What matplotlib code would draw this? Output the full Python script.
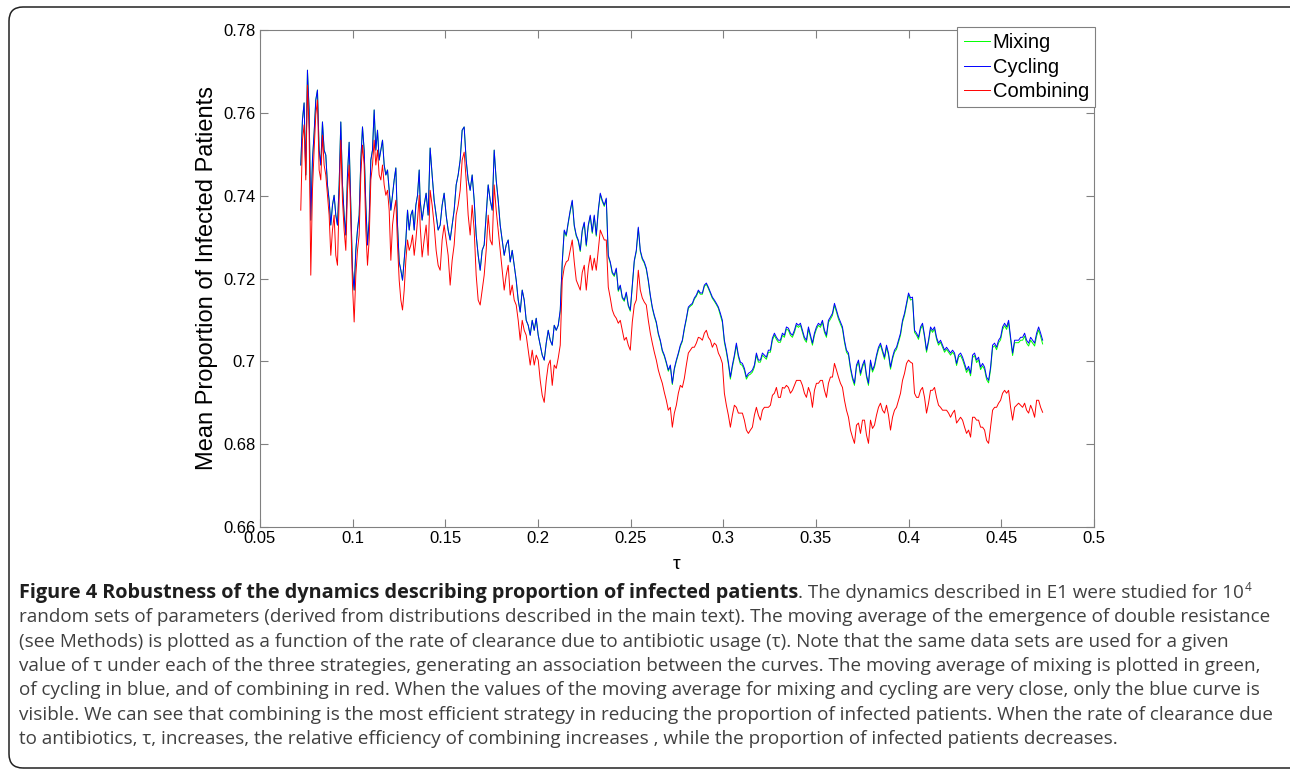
import matplotlib
matplotlib.use("Agg")
import matplotlib.pyplot as plt
import matplotlib.patches as mpatches
from matplotlib.transforms import IdentityTransform

# tau (rate of clearance due to antibiotic usage) for each moving-average point
TAU = [
    0.0720, 0.0729, 0.0738, 0.0747, 0.0756, 0.0765, 0.0774, 0.0783, 0.0792, 0.0801,
    0.0810, 0.0819, 0.0828, 0.0837, 0.0846, 0.0855, 0.0864, 0.0873, 0.0882, 0.0891,
    0.0900, 0.0909, 0.0918, 0.0927, 0.0936, 0.0945, 0.0954, 0.0963, 0.0972, 0.0981,
    0.0990, 0.0999, 0.1008, 0.1017, 0.1026, 0.1035, 0.1044, 0.1053, 0.1062, 0.1071,
    0.1080, 0.1089, 0.1098, 0.1107, 0.1116, 0.1125, 0.1134, 0.1143, 0.1152, 0.1161,
    0.1170, 0.1179, 0.1188, 0.1197, 0.1206, 0.1215, 0.1224, 0.1233, 0.1242, 0.1251,
    0.1260, 0.1269, 0.1278, 0.1287, 0.1296, 0.1305, 0.1314, 0.1323, 0.1332, 0.1341,
    0.1350, 0.1359,
    0.13640, 0.13748, 0.13856, 0.13964, 0.14072, 0.14180, 0.14288, 0.14396, 0.14504, 0.14612,
    0.14720, 0.14828, 0.14936, 0.15044, 0.15152, 0.15260, 0.15368, 0.15476, 0.15584, 0.15692,
    0.15800, 0.15908, 0.16016, 0.16124, 0.16232, 0.16340, 0.16448, 0.16556, 0.16664, 0.16772,
    0.16880, 0.16988, 0.17096, 0.17204, 0.17312, 0.17420, 0.17528, 0.17636, 0.17744, 0.17852,
    0.17960, 0.18068, 0.18176, 0.18284, 0.18392, 0.18500, 0.18608, 0.18716, 0.18824, 0.18932,
    0.19040, 0.19148, 0.19256, 0.19364, 0.19472, 0.19580, 0.19688, 0.19796, 0.19904, 0.20012,
    0.20120, 0.20228, 0.20336, 0.20444, 0.20552, 0.20660, 0.20768, 0.20876, 0.20984, 0.21092,
    0.21200, 0.21308, 0.21416, 0.21524, 0.21632, 0.21740, 0.21848, 0.21956, 0.22064, 0.22172,
    0.22280, 0.22388, 0.22496, 0.22604, 0.22712, 0.22820, 0.22928, 0.23036, 0.23144, 0.23252,
    0.23360, 0.23468, 0.23576, 0.23684, 0.23792, 0.23900, 0.24008, 0.24116, 0.24224, 0.24332,
    0.24440, 0.24548, 0.24656, 0.24764, 0.24872, 0.24980, 0.25088, 0.25196, 0.25304, 0.25412,
    0.25520, 0.25628, 0.25736, 0.25844, 0.25952, 0.26060, 0.26168, 0.26276, 0.26384, 0.26492,
    0.26600, 0.26708, 0.26816, 0.26924, 0.27032, 0.27140, 0.27248, 0.27356, 0.27464, 0.27572,
    0.27680, 0.27788, 0.27896, 0.28004, 0.28112, 0.28220, 0.28328, 0.28436, 0.28544, 0.28652,
    0.28760, 0.28868, 0.28976, 0.29084, 0.29192, 0.29300, 0.29408, 0.29516, 0.29624, 0.29732,
    0.29840, 0.29948, 0.30056, 0.30164, 0.30272, 0.30380, 0.30488, 0.30596, 0.30704, 0.30812,
    0.30920, 0.31028, 0.31136, 0.31244, 0.31352, 0.31460, 0.31568, 0.31676, 0.31784, 0.31892,
    0.32000, 0.32108, 0.32216, 0.32324, 0.32432, 0.32540, 0.32648, 0.32756, 0.32864, 0.32972,
    0.33080, 0.33188, 0.33296, 0.33404, 0.33512, 0.33620, 0.33728, 0.33836, 0.33944, 0.34052,
    0.34160, 0.34268, 0.34376, 0.34484, 0.34592, 0.34700, 0.34808, 0.34916, 0.35024, 0.35132,
    0.35240, 0.35348, 0.35456, 0.35564, 0.35672, 0.35780, 0.35888, 0.35996, 0.36104, 0.36212,
    0.36320, 0.36428, 0.36536, 0.36644, 0.36752, 0.36860, 0.36968, 0.37076, 0.37184, 0.37292,
    0.37400, 0.37508, 0.37616, 0.37724, 0.37832, 0.37940, 0.38048, 0.38156, 0.38264, 0.38372,
    0.38480, 0.38588, 0.38696, 0.38804, 0.38912, 0.39020, 0.39128, 0.39236, 0.39344, 0.39452,
    0.39560, 0.39668, 0.39776, 0.39884, 0.39992, 0.40100, 0.40208, 0.40316, 0.40424, 0.40532,
    0.40640, 0.40748, 0.40856, 0.40964, 0.41072, 0.41180, 0.41288, 0.41396, 0.41504, 0.41612,
    0.41720, 0.41828, 0.41936, 0.42044, 0.42152, 0.42260, 0.42368, 0.42476, 0.42584, 0.42692,
    0.42800, 0.42908, 0.43016, 0.43124, 0.43232, 0.43340, 0.43448, 0.43556, 0.43664, 0.43772,
    0.43880, 0.43988, 0.44096, 0.44204, 0.44312, 0.44420, 0.44528, 0.44636, 0.44744, 0.44852,
    0.44960, 0.45068, 0.45176, 0.45284, 0.45392, 0.45500, 0.45608, 0.45716, 0.45824, 0.45932,
    0.46040, 0.46148, 0.46256, 0.46364, 0.46472, 0.46580, 0.46688, 0.46796, 0.46904, 0.47012,
    0.47120, 0.47228,
]

CYCLING = [
    0.7474, 0.7583, 0.7624, 0.7450, 0.7703, 0.7607, 0.7341, 0.7486, 0.7551, 0.7631,
    0.7655, 0.7510, 0.7474, 0.7578, 0.7510, 0.7498, 0.7426, 0.7389, 0.7329, 0.7377,
    0.7401, 0.7353, 0.7329, 0.7426, 0.7578, 0.7426, 0.7353, 0.7305, 0.7450, 0.7529,
    0.7377, 0.7220, 0.7172, 0.7268, 0.7317, 0.7353, 0.7486, 0.7566, 0.7510, 0.7377,
    0.7281, 0.7341, 0.7486, 0.7510, 0.7607, 0.7510, 0.7558, 0.7486, 0.7510, 0.7534,
    0.7474, 0.7450, 0.7462, 0.7413, 0.7365, 0.7401, 0.7438, 0.7467, 0.7329, 0.7240,
    0.7220, 0.7196, 0.7244, 0.7293, 0.7365, 0.7317, 0.7353, 0.7365, 0.7317, 0.7377,
    0.7401, 0.7462,
    0.7389, 0.7341, 0.7377, 0.7406, 0.7353, 0.7515, 0.7450, 0.7389, 0.7353, 0.7317,
    0.7329, 0.7377, 0.7406, 0.7353, 0.7317, 0.7293, 0.7329, 0.7365, 0.7426, 0.7450,
    0.7486, 0.7558, 0.7566, 0.7486, 0.7438, 0.7413, 0.7450, 0.7389, 0.7305, 0.7256,
    0.7220, 0.7268, 0.7281, 0.7353, 0.7426, 0.7389, 0.7365, 0.7510, 0.7438, 0.7389,
    0.7329, 0.7293, 0.7256, 0.7281, 0.7293, 0.7240, 0.7268, 0.7232, 0.7196, 0.7148,
    0.7119, 0.7172, 0.7148, 0.7099, 0.7087, 0.7063, 0.7099, 0.7075, 0.7104, 0.7063,
    0.7039, 0.7015, 0.7003, 0.7044, 0.7075, 0.7051, 0.7039, 0.7087, 0.7075, 0.7087,
    0.7124, 0.7240, 0.7317, 0.7305, 0.7336, 0.7365, 0.7389, 0.7329, 0.7305, 0.7293,
    0.7268, 0.7317, 0.7336, 0.7281, 0.7329, 0.7353, 0.7312, 0.7353, 0.7305, 0.7365,
    0.7406, 0.7389, 0.7377, 0.7394, 0.7256, 0.7240, 0.7215, 0.7208, 0.7225, 0.7172,
    0.7184, 0.7155, 0.7148, 0.7167, 0.7136, 0.7124, 0.7184, 0.7244, 0.7268, 0.7324,
    0.7268, 0.7249, 0.7240, 0.7225, 0.7196, 0.7160, 0.7131, 0.7111, 0.7095, 0.7068,
    0.7051, 0.7027, 0.7015, 0.6998, 0.6979, 0.6991, 0.6947, 0.6983, 0.7003, 0.7020,
    0.7039, 0.7051, 0.7080, 0.7104, 0.7131, 0.7136, 0.7140, 0.7153, 0.7160, 0.7172,
    0.7165, 0.7165, 0.7184, 0.7189, 0.7179, 0.7167, 0.7155, 0.7148, 0.7140, 0.7131,
    0.7116, 0.7099, 0.7051, 0.7027, 0.6998, 0.6962, 0.6991, 0.7015, 0.7044, 0.7015,
    0.6998, 0.6995, 0.6983, 0.6962, 0.6971, 0.6974, 0.6979, 0.6991, 0.7020, 0.7003,
    0.7003, 0.7020, 0.7015, 0.7010, 0.7027, 0.7027, 0.7056, 0.7068, 0.7058, 0.7051,
    0.7051, 0.7068, 0.7063, 0.7083, 0.7080, 0.7068, 0.7063, 0.7075, 0.7092, 0.7087,
    0.7092, 0.7075, 0.7058, 0.7051, 0.7083, 0.7063, 0.7044, 0.7068, 0.7083, 0.7092,
    0.7087, 0.7099, 0.7075, 0.7063, 0.7099, 0.7107, 0.7116, 0.7140, 0.7124, 0.7107,
    0.7095, 0.7083, 0.7051, 0.7027, 0.7020, 0.6986, 0.6962, 0.6947, 0.6991, 0.7003,
    0.6971, 0.6991, 0.7003, 0.6967, 0.6947, 0.7003, 0.6979, 0.6991, 0.7015, 0.7034,
    0.7044, 0.7027, 0.7010, 0.7039, 0.7020, 0.6986, 0.7010, 0.7027, 0.7034, 0.7051,
    0.7068, 0.7099, 0.7116, 0.7140, 0.7165, 0.7153, 0.7155, 0.7075, 0.7068, 0.7058,
    0.7083, 0.7092, 0.7063, 0.7027, 0.7051, 0.7083, 0.7075, 0.7083, 0.7058, 0.7044,
    0.7051, 0.7039, 0.7027, 0.7034, 0.7027, 0.7020, 0.7027, 0.7020, 0.6995, 0.7015,
    0.7020, 0.7010, 0.6995, 0.6979, 0.6988, 0.6971, 0.7015, 0.7020, 0.7003, 0.7010,
    0.6986, 0.6995, 0.6986, 0.6962, 0.6954, 0.6986, 0.7039, 0.7044, 0.7034, 0.7051,
    0.7058, 0.7083, 0.7092, 0.7083, 0.7099, 0.7058, 0.7020, 0.7051, 0.7051, 0.7051,
    0.7058, 0.7058, 0.7068, 0.7051, 0.7044, 0.7058, 0.7051, 0.7044, 0.7068, 0.7083,
    0.7068, 0.7051,
]

MIXING = [
    0.7474, 0.7583, 0.7624, 0.7450, 0.7703, 0.7607, 0.7341, 0.7486, 0.7551, 0.7631,
    0.7655, 0.7510, 0.7474, 0.7578, 0.7510, 0.7498, 0.7426, 0.7389, 0.7329, 0.7377,
    0.7401, 0.7353, 0.7329, 0.7426, 0.7578, 0.7426, 0.7353, 0.7305, 0.7450, 0.7529,
    0.7377, 0.7220, 0.7172, 0.7268, 0.7317, 0.7353, 0.7486, 0.7566, 0.7510, 0.7377,
    0.7281, 0.7341, 0.7486, 0.7510, 0.7607, 0.7510, 0.7558, 0.7486, 0.7510, 0.7534,
    0.7474, 0.7450, 0.7462, 0.7413, 0.7365, 0.7401, 0.7438, 0.7467, 0.7329, 0.7240,
    0.7220, 0.7196, 0.7244, 0.7293, 0.7365, 0.7317, 0.7353, 0.7365, 0.7317, 0.7377,
    0.7401, 0.7462,
    0.7389, 0.7341, 0.7377, 0.7406, 0.7353, 0.7515, 0.7450, 0.7389, 0.7353, 0.7317,
    0.7329, 0.7377, 0.7406, 0.7353, 0.7317, 0.7293, 0.7329, 0.7365, 0.7426, 0.7450,
    0.7486, 0.7558, 0.7566, 0.7486, 0.7438, 0.7413, 0.7450, 0.7389, 0.7305, 0.7256,
    0.7220, 0.7268, 0.7281, 0.7353, 0.7426, 0.7389, 0.7365, 0.7510, 0.7438, 0.7389,
    0.7329, 0.7293, 0.7256, 0.7281, 0.7293, 0.7240, 0.7268, 0.7232, 0.7196, 0.7148,
    0.7119, 0.7172, 0.7148, 0.7099, 0.7087, 0.7063, 0.7099, 0.7075, 0.7104, 0.7063,
    0.7039, 0.7015, 0.7003, 0.7044, 0.7075, 0.7051, 0.7039, 0.7087, 0.7075, 0.7087,
    0.7121, 0.7237, 0.7314, 0.7302, 0.7333, 0.7362, 0.7386, 0.7326, 0.7302, 0.7290,
    0.7265, 0.7314, 0.7333, 0.7278, 0.7326, 0.7350, 0.7309, 0.7350, 0.7302, 0.7362,
    0.7403, 0.7386, 0.7374, 0.7391, 0.7253, 0.7237, 0.7212, 0.7205, 0.7222, 0.7169,
    0.7181, 0.7152, 0.7145, 0.7164, 0.7133, 0.7121, 0.7181, 0.7241, 0.7265, 0.7321,
    0.7265, 0.7246, 0.7237, 0.7222, 0.7193, 0.7157, 0.7128, 0.7108, 0.7092, 0.7065,
    0.7048, 0.7024, 0.7012, 0.6995, 0.6976, 0.6988, 0.6944, 0.6980, 0.7000, 0.7017,
    0.7036, 0.7048, 0.7077, 0.7101, 0.7128, 0.7133, 0.7137, 0.7150, 0.7157, 0.7169,
    0.7162, 0.7162, 0.7181, 0.7186, 0.7176, 0.7164, 0.7152, 0.7145, 0.7137, 0.7128,
    0.7111, 0.7094, 0.7046, 0.7022, 0.6993, 0.6957, 0.6986, 0.7010, 0.7039, 0.7010,
    0.6993, 0.6990, 0.6978, 0.6957, 0.6966, 0.6969, 0.6974, 0.6986, 0.7015, 0.6998,
    0.6998, 0.7015, 0.7010, 0.7005, 0.7022, 0.7022, 0.7051, 0.7063, 0.7053, 0.7046,
    0.7046, 0.7063, 0.7058, 0.7078, 0.7075, 0.7063, 0.7058, 0.7070, 0.7087, 0.7082,
    0.7087, 0.7070, 0.7053, 0.7046, 0.7078, 0.7058, 0.7039, 0.7063, 0.7078, 0.7087,
    0.7082, 0.7094, 0.7070, 0.7058, 0.7094, 0.7102, 0.7111, 0.7135, 0.7119, 0.7102,
    0.7090, 0.7078, 0.7046, 0.7022, 0.7015, 0.6981, 0.6957, 0.6942, 0.6986, 0.6998,
    0.6966, 0.6986, 0.6998, 0.6962, 0.6942, 0.6998, 0.6974, 0.6986, 0.7010, 0.7029,
    0.7039, 0.7022, 0.7005, 0.7034, 0.7015, 0.6981, 0.7005, 0.7022, 0.7029, 0.7046,
    0.7063, 0.7094, 0.7111, 0.7135, 0.7160, 0.7148, 0.7150, 0.7070, 0.7063, 0.7053,
    0.7078, 0.7087, 0.7058, 0.7022, 0.7046, 0.7078, 0.7070, 0.7078, 0.7053, 0.7039,
    0.7046, 0.7034, 0.7022, 0.7029, 0.7022, 0.7015, 0.7022, 0.7015, 0.6990, 0.7010,
    0.7014, 0.7004, 0.6989, 0.6973, 0.6982, 0.6965, 0.7009, 0.7014, 0.6997, 0.7004,
    0.6980, 0.6989, 0.6980, 0.6956, 0.6948, 0.6980, 0.7033, 0.7038, 0.7028, 0.7045,
    0.7052, 0.7077, 0.7086, 0.7077, 0.7093, 0.7052, 0.7014, 0.7045, 0.7045, 0.7045,
    0.7051, 0.7051, 0.7061, 0.7044, 0.7037, 0.7051, 0.7044, 0.7037, 0.7061, 0.7076,
    0.7060, 0.7042,
]

COMBINING = [
    0.7365, 0.7534, 0.7571, 0.7438, 0.7667, 0.7558, 0.7208, 0.7413, 0.7510, 0.7595,
    0.7631, 0.7462, 0.7438, 0.7546, 0.7474, 0.7450, 0.7401, 0.7353, 0.7256, 0.7317,
    0.7353, 0.7256, 0.7232, 0.7389, 0.7534, 0.7389, 0.7317, 0.7268, 0.7413, 0.7474,
    0.7341, 0.7184, 0.7095, 0.7208, 0.7268, 0.7305, 0.7450, 0.7522, 0.7474, 0.7317,
    0.7232, 0.7293, 0.7438, 0.7474, 0.7534, 0.7474, 0.7510, 0.7450, 0.7438, 0.7474,
    0.7426, 0.7401, 0.7413, 0.7365, 0.7244, 0.7329, 0.7365, 0.7389, 0.7281, 0.7196,
    0.7148, 0.7124, 0.7172, 0.7244, 0.7293, 0.7268, 0.7281, 0.7305, 0.7256, 0.7293,
    0.7341, 0.7401,
    0.7329, 0.7252, 0.7293, 0.7329, 0.7256, 0.7413, 0.7377, 0.7329, 0.7268, 0.7232,
    0.7220, 0.7293, 0.7329, 0.7293, 0.7256, 0.7184, 0.7244, 0.7281, 0.7353, 0.7377,
    0.7413, 0.7486, 0.7505, 0.7438, 0.7353, 0.7305, 0.7377, 0.7317, 0.7208, 0.7148,
    0.7136, 0.7172, 0.7208, 0.7268, 0.7353, 0.7293, 0.7281, 0.7426, 0.7365, 0.7317,
    0.7268, 0.7220, 0.7172, 0.7208, 0.7232, 0.7160, 0.7184, 0.7148, 0.7136, 0.7099,
    0.7051, 0.7099, 0.7075, 0.7063, 0.7027, 0.6991, 0.7027, 0.6991, 0.7015, 0.7003,
    0.6954, 0.6918, 0.6901, 0.6954, 0.6991, 0.7003, 0.6942, 0.6991, 0.6983, 0.7008,
    0.7039, 0.7196, 0.7227, 0.7240, 0.7244, 0.7268, 0.7293, 0.7240, 0.7196, 0.7184,
    0.7172, 0.7215, 0.7232, 0.7172, 0.7225, 0.7256, 0.7220, 0.7249, 0.7220, 0.7268,
    0.7317, 0.7305, 0.7293, 0.7293, 0.7179, 0.7153, 0.7124, 0.7111, 0.7104, 0.7092,
    0.7099, 0.7075, 0.7051, 0.7058, 0.7039, 0.7027, 0.7095, 0.7136, 0.7148, 0.7220,
    0.7172, 0.7153, 0.7143, 0.7136, 0.7099, 0.7068, 0.7044, 0.7022, 0.7003, 0.6979,
    0.6962, 0.6947, 0.6925, 0.6906, 0.6882, 0.6889, 0.6841, 0.6875, 0.6894, 0.6923,
    0.6942, 0.6937, 0.6959, 0.6991, 0.7020, 0.7027, 0.7034, 0.7034, 0.7044, 0.7058,
    0.7056, 0.7051, 0.7068, 0.7075, 0.7058, 0.7051, 0.7034, 0.7044, 0.7039, 0.7020,
    0.7010, 0.6995, 0.6923, 0.6894, 0.6870, 0.6841, 0.6870, 0.6894, 0.6889, 0.6875,
    0.6875, 0.6875, 0.6858, 0.6834, 0.6826, 0.6834, 0.6841, 0.6870, 0.6889, 0.6870,
    0.6858, 0.6882, 0.6889, 0.6889, 0.6889, 0.6894, 0.6918, 0.6923, 0.6937, 0.6913,
    0.6913, 0.6937, 0.6935, 0.6942, 0.6937, 0.6923, 0.6930, 0.6942, 0.6954, 0.6954,
    0.6954, 0.6942, 0.6923, 0.6913, 0.6937, 0.6923, 0.6889, 0.6930, 0.6947, 0.6947,
    0.6954, 0.6954, 0.6930, 0.6913, 0.6947, 0.6962, 0.6962, 0.6995, 0.6979, 0.6962,
    0.6947, 0.6937, 0.6906, 0.6882, 0.6865, 0.6834, 0.6817, 0.6802, 0.6846, 0.6851,
    0.6826, 0.6858, 0.6858, 0.6822, 0.6802, 0.6858, 0.6838, 0.6846, 0.6870, 0.6889,
    0.6899, 0.6882, 0.6875, 0.6894, 0.6870, 0.6834, 0.6865, 0.6882, 0.6889, 0.6906,
    0.6923, 0.6954, 0.6971, 0.6995, 0.7003, 0.6998, 0.6995, 0.6923, 0.6913, 0.6913,
    0.6930, 0.6937, 0.6913, 0.6875, 0.6899, 0.6930, 0.6930, 0.6937, 0.6913, 0.6894,
    0.6889, 0.6882, 0.6882, 0.6882, 0.6875, 0.6865, 0.6875, 0.6882, 0.6851, 0.6858,
    0.6865, 0.6858, 0.6841, 0.6826, 0.6834, 0.6817, 0.6865, 0.6865, 0.6858, 0.6858,
    0.6841, 0.6841, 0.6834, 0.6809, 0.6802, 0.6841, 0.6882, 0.6889, 0.6889, 0.6899,
    0.6906, 0.6923, 0.6930, 0.6923, 0.6930, 0.6889, 0.6858, 0.6889, 0.6894, 0.6899,
    0.6894, 0.6889, 0.6899, 0.6882, 0.6875, 0.6894, 0.6882, 0.6865, 0.6906, 0.6906,
    0.6889, 0.6877,
]

SERIES_NAMES = ["Mixing", "Cycling", "Combining"]

X_TICKS = [0.05, 0.1, 0.15, 0.2, 0.25, 0.3, 0.35, 0.4, 0.45, 0.5]
X_TICK_LABELS = ["0.05", "0.1", "0.15", "0.2", "0.25", "0.3", "0.35", "0.4", "0.45", "0.5"]
Y_TICKS = [0.66, 0.68, 0.70, 0.72, 0.74, 0.76, 0.78]
Y_TICK_LABELS = ["0.66", "0.68", "0.7", "0.72", "0.74", "0.76", "0.78"]

X_LABEL = "τ"
Y_LABEL = "Mean Proportion of Infected Patients"

CAPTION_BOLD = "Figure 4 Robustness of the dynamics describing proportion of infected patients"
CAPTION_FIRST_REST = ". The dynamics described in E1 were studied for 10"
CAPTION_SUP = "4"
CAPTION_LINES = [
    "random sets of parameters (derived from distributions described in the main text). The moving average of the emergence of double resistance",
    "(see Methods) is plotted as a function of the rate of clearance due to antibiotic usage (τ). Note that the same data sets are used for a given",
    "value of τ under each of the three strategies, generating an association between the curves. The moving average of mixing is plotted in green,",
    "of cycling in blue, and of combining in red. When the values of the moving average for mixing and cycling are very close, only the blue curve is",
    "visible. We can see that combining is the most efficient strategy in reducing the proportion of infected patients. When the rate of clearance due",
    "to antibiotics, τ, increases, the relative efficiency of combining increases , while the proportion of infected patients decreases.",
]

# --- style ---
W, H = 1290, 771
AXIS_GRAY = "#808080"
CAP_FONT = ["Open Sans", "DejaVu Sans"]
CAP_COLOR = "#404040"

plt.rcParams["font.family"] = ["Liberation Sans", "DejaVu Sans"]

fig = plt.figure(figsize=(W / 100, H / 100), dpi=100, facecolor="white")

# rounded frame around figure + caption
frame = mpatches.FancyBboxPatch(
    (9, 3), 1320, 761,
    boxstyle="round,pad=0,rounding_size=14",
    transform=IdentityTransform(),
    fill=False, edgecolor="#222222", linewidth=1.1,
)
fig.add_artist(frame)

ax = fig.add_axes([260 / W, 1 - 527 / H, (1094 - 260) / W, (527 - 30) / H])

colors = ["#00ff00", "#0000ff", "#ff0000"]
for ys, name, col in zip([MIXING, CYCLING, COMBINING], SERIES_NAMES, colors):
    ax.plot(TAU, ys, color=col, linewidth=0.7, label=name)

ax.set_xlim(0.05, 0.5)
ax.set_ylim(0.66, 0.78)
ax.set_xticks(X_TICKS)
ax.set_xticklabels(X_TICK_LABELS)
ax.set_yticks(Y_TICKS)
ax.set_yticklabels(Y_TICK_LABELS)
ax.tick_params(direction="in", length=6, width=0.8, color=AXIS_GRAY,
               top=True, right=True, labelsize=12, pad=3, labelcolor="black")
for sp in ax.spines.values():
    sp.set_color(AXIS_GRAY)
    sp.set_linewidth(0.8)

ax.set_xlabel(X_LABEL, fontsize=14, labelpad=7)
fig.text(207 / W, 1 - 278 / H, Y_LABEL, rotation=90, fontsize=17,
         ha="center", va="center")

leg = ax.legend(loc="upper right", bbox_to_anchor=(1095 / W, 1 - 27 / H),
                bbox_transform=fig.transFigure, fontsize=14.5,
                fancybox=False, edgecolor=AXIS_GRAY, framealpha=1,
                borderaxespad=0, borderpad=0.3, handlelength=1.3,
                handletextpad=0.15, labelspacing=0.28)
leg.get_frame().set_linewidth(0.8)

# --- caption: fit font sizes to the widths seen in the figure ---
fig.canvas.draw()
renderer = fig.canvas.get_renderer()
probe = fig.text(0, 0, CAPTION_LINES[0], fontsize=12, family=CAP_FONT)
probe_w = probe.get_window_extent(renderer).width
probe.remove()
cap_size = 12 * (1262 - 19) / probe_w

probe = fig.text(0, 0, CAPTION_BOLD, fontsize=12, family=CAP_FONT, fontweight="bold")
probe_w = probe.get_window_extent(renderer).width
probe.remove()
bold_size = min(12 * (797 - 19) / probe_w, cap_size * 1.08)

x0 = 19 / W
baselines = [598, 622.3, 646.6, 670.9, 695.2, 719.5, 743.8]

bold = fig.text(x0, 1 - baselines[0] / H, CAPTION_BOLD, fontsize=bold_size,
                fontweight="bold", family=CAP_FONT, color="#1e1e1e", va="baseline")
bb = bold.get_window_extent(renderer)
rest = fig.text(bb.x1 / W, 1 - baselines[0] / H, CAPTION_FIRST_REST, fontsize=cap_size,
                family=CAP_FONT, color=CAP_COLOR, va="baseline")
rb = rest.get_window_extent(renderer)
fig.text(rb.x1 / W + 0.0008, 1 - (baselines[0] - 7) / H, CAPTION_SUP,
         fontsize=cap_size * 0.62, family=CAP_FONT, color=CAP_COLOR, va="baseline")

for line, yb in zip(CAPTION_LINES, baselines[1:]):
    fig.text(x0, 1 - yb / H, line, fontsize=cap_size, family=CAP_FONT,
             color=CAP_COLOR, va="baseline")

fig.savefig("out.png", dpi=100, facecolor="white")
plt.close(fig)
